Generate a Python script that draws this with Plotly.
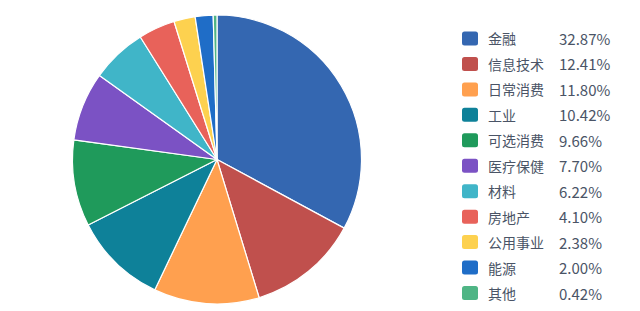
import plotly.graph_objects as go

labels = ["金融", "信息技术", "日常消费", "工业", "可选消费", "医疗保健", "材料", "房地产", "公用事业", "能源", "其他"]
values = [32.87, 12.41, 11.80, 10.42, 9.66, 7.70, 6.22, 4.10, 2.38, 2.00, 0.42]
colors = ["#3467b1", "#c0504d", "#ffa04f", "#0e8199", "#1f9a5b", "#7b52c4",
          "#40b5c8", "#e8625a", "#fdd14f", "#1f6dc7", "#4fb585"]

W, H = 640, 311

fig = go.Figure()
fig.add_trace(go.Pie(
    labels=labels, values=values, sort=False, direction="clockwise", rotation=0,
    marker=dict(colors=colors, line=dict(color="white", width=1.2)),
    textinfo="none", hoverinfo="label+percent", showlegend=False,
    domain=dict(x=[72 / W, 362 / W], y=[1 - 304 / H, 1 - 15 / H]),
))

def px(x):
    return x / W

def py(y):
    return 1 - y / H

shapes = []
annotations = []
y0 = 38.5
dy = 25.45
for i, (lab, val, col) in enumerate(zip(labels, values, colors)):
    yc = y0 + i * dy
    x1, x2 = 462, 478
    t, b = yc - 7, yc + 7
    r = 2.5
    path = (f"M {px(x1 + r)},{py(t)} L {px(x2 - r)},{py(t)} Q {px(x2)},{py(t)} {px(x2)},{py(t + r)} "
            f"L {px(x2)},{py(b - r)} Q {px(x2)},{py(b)} {px(x2 - r)},{py(b)} "
            f"L {px(x1 + r)},{py(b)} Q {px(x1)},{py(b)} {px(x1)},{py(b - r)} "
            f"L {px(x1)},{py(t + r)} Q {px(x1)},{py(t)} {px(x1 + r)},{py(t)} Z")
    shapes.append(dict(type="path", path=path, xref="paper", yref="paper",
                       fillcolor=col, line=dict(width=0)))
    annotations.append(dict(x=px(486), y=py(yc), xref="paper", yref="paper", text=lab,
                            showarrow=False, xanchor="left", yanchor="middle",
                            font=dict(size=14, color="#4a5466", family="Noto Sans CJK SC")))
    annotations.append(dict(x=px(557), y=py(yc), xref="paper", yref="paper", text=f"{val:.2f}%",
                            showarrow=False, xanchor="left", yanchor="middle",
                            font=dict(size=15, color="#4a5466", family="Noto Sans CJK SC")))

fig.update_layout(
    width=W, height=H, margin=dict(l=0, r=0, t=0, b=0),
    paper_bgcolor="white", plot_bgcolor="white",
    shapes=shapes, annotations=annotations,
)
fig.write_html("out.html")
